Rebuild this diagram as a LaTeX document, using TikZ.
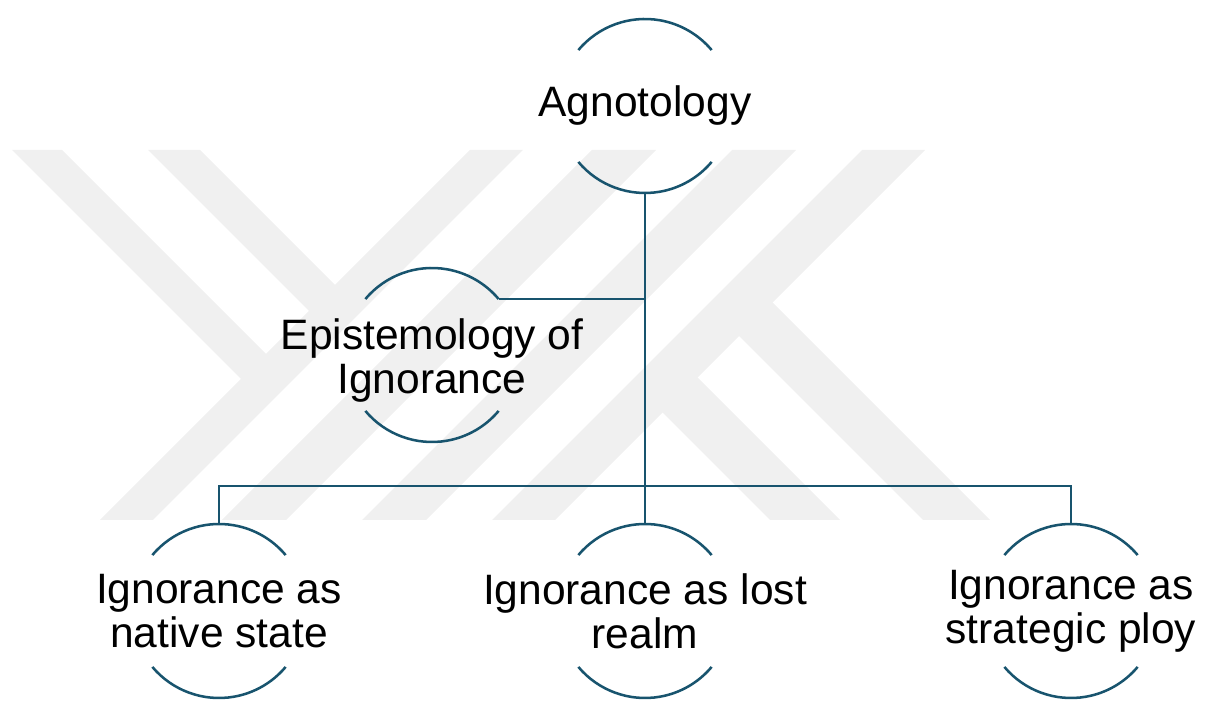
\documentclass[tikz,border=0pt]{standalone}
\usepackage{fontspec}
\setmainfont{Liberation Sans}
\definecolor{wm}{RGB}{240,240,240}
\definecolor{teal}{RGB}{24,84,110}
\begin{document}
\begin{tikzpicture}[x=0.75pt,y=0.75pt,
  conn/.style={draw=teal,line width=1.9pt},
  arcline/.style={draw=teal,line width=1.9pt},
  lbl/.style={align=center,inner sep=0pt,font=\fontsize{31.9}{33}\selectfont,text=black},
  band/.style={fill=wm,draw=none}]
\useasboundingbox (0,0) rectangle (1212,702);
% watermark
\fill[band] (470,552) -- (523,552) -- (153,182) -- (100,182) -- cycle;
\fill[band] (592,552) -- (656,552) -- (286,182) -- (222,182) -- cycle;
\fill[band] (732,552) -- (796,552) -- (426,182) -- (362,182) -- cycle;
\fill[band] (862,552) -- (925,552) -- (555,182) -- (492,182) -- cycle;
\fill[band] (12,552) -- (62,552) -- (279,335) -- (254,310) -- cycle;
\fill[band] (148,552) -- (200,552) -- (348,404) -- (322,378) -- cycle;
\fill[band] (757,415) -- (723,382) -- (923,182) -- (990,182) -- cycle;
\fill[band] (682,340) -- (647,305) -- (770,182) -- (840,182) -- cycle;
% circle centres
\coordinate (agnC) at (645,596);
\coordinate (epiC) at (432,347);
\coordinate (n1C) at (219,91);
\coordinate (n2C) at (645,91);
\coordinate (n3C) at (1071,91);
% nodes
\node[lbl] (agn) at (agnC) {Agnotology};
\node[lbl] (epi) at ([yshift=-4.5pt]epiC) {Epistemology of\\Ignorance};
\node[lbl] (n1) at (n1C) {Ignorance as\\native state};
\node[lbl] (n2) at (n2C) {Ignorance as lost\\realm};
\node[lbl] (n3) at (n3C) {Ignorance as\\strategic ploy};
% arcs
\foreach \n in {agnC,epiC,n1C,n2C,n3C}{
  \draw[arcline] ([shift={(140:87)}]\n) arc[start angle=140,end angle=40,radius=87];
  \draw[arcline] ([shift={(220:87)}]\n) arc[start angle=220,end angle=320,radius=87];
}
% connector points
\coordinate (agnB) at ([shift={(270:87)}]agnC);
\coordinate (epiR) at ([shift={(40:87)}]epiC);
\coordinate (n1T) at ([shift={(90:87)}]n1C);
\coordinate (n2T) at ([shift={(90:87)}]n2C);
\coordinate (n3T) at ([shift={(90:87)}]n3C);
\coordinate (bus) at (645,216);
\draw[conn] (agnB) -- (n2T);
\draw[conn] (epiR) -- (epiR -| agnB);
\draw[conn] (n1T) |- (bus) -| (n3T);
\end{tikzpicture}
\end{document}
